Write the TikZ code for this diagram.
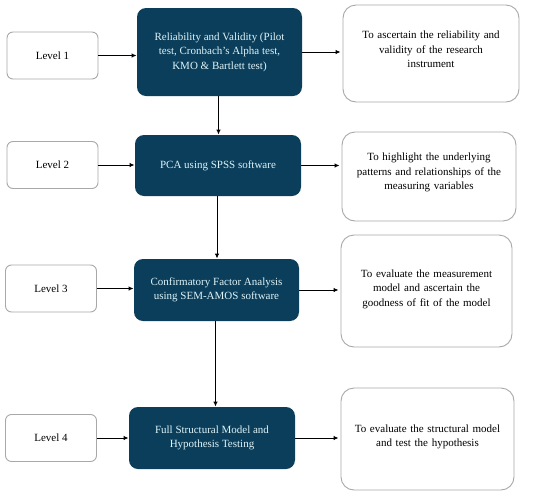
\documentclass[tikz,border=0pt]{standalone}
\usepackage{fontspec}
\setmainfont{Liberation Serif}
\usepackage{xcolor}
\usepackage{tikz}
\usetikzlibrary{positioning,arrows.meta}
\definecolor{stagefill}{RGB}{11,62,91}
\definecolor{stagetext}{RGB}{222,243,247}
\definecolor{boxline}{RGB}{168,168,168}

\begin{document}
\begin{tikzpicture}[
  x=1pt, y=-1pt,
  font=\fontsize{11}{14.5}\selectfont,
  box/.style={draw=boxline, line width=0.9pt, align=center, inner sep=2pt},
  lvl/.style={box, rounded corners=6pt, minimum width=91pt, minimum height=47pt},
  stage/.style={box, draw=none, fill=stagefill, text=stagetext, rounded corners=9pt, minimum width=165pt},
  aim/.style={box, rounded corners=13pt, text width=164pt, minimum width=174pt},
  arr/.style={-{Latex[length=5pt,width=4.5pt]}, line width=0.9pt, black},
]
\useasboundingbox (0,0) rectangle (550,496);
\node[lvl] (l1) at (52.5,55.5) {Level 1};
\node[lvl] (l2) at (52.5,165) {Level 2};
\node[lvl] (l3) at (51,288.5) {Level 3};
\node[lvl] (l4) at (51,438) {Level 4};
\node[stage, minimum height=88pt] (m1) at (219.5,52) {Reliability and Validity (Pilot\\test, Cronbach's Alpha test,\\KMO \& Bartlett test)};
\node[stage, minimum height=61pt, minimum width=166pt] (m2) at (218,165.5) {PCA using SPSS software};
\node[stage, minimum height=62pt] (m3) at (216.5,290) {Confirmatory Factor Analysis\\using SEM-AMOS software};
\node[stage, minimum height=62pt, minimum width=166pt] (m4) at (212,438) {Full Structural Model and\\Hypothesis Testing};
\node[aim, minimum width=176pt, minimum height=97pt] (r1) at (431,53.5) {To ascertain the reliability and\\validity of the research\\instrument\vspace{8pt}};
\node[aim, minimum height=89pt] (r2) at (429,176.5) {To highlight the underlying\\patterns and relationships of the\\measuring variables\vspace{8pt}};
\node[aim, minimum width=171pt, minimum height=112pt] (r3) at (426.5,291) {To evaluate the measurement\\model and ascertain the\\goodness of fit of the model\vspace{4pt}};
\node[aim, minimum width=173pt, minimum height=102pt] (r4) at (427.5,439) {To evaluate the structural model\\and test the hypothesis\vspace{4pt}};
\draw[arr] (l1.east) -- (l1.east -| m1.west);
\draw[arr] (l2.east) -- (l2.east -| m2.west);
\draw[arr] (l3.east) -- (l3.east -| m3.west);
\draw[arr] (l4.east) -- (l4.east -| m4.west);
\draw[arr] (m1.east) -- ([xshift=-2pt]m1.east -| r1.west);
\draw[arr] (m2.east) -- ([xshift=-2pt]m2.east -| r2.west);
\draw[arr] (m3.east) -- ([xshift=-2pt]m3.east -| r3.west);
\draw[arr] (m4.east) -- ([xshift=-2pt]m4.east -| r4.west);
\draw[arr] ([xshift=-1pt]m1.south) -- ([xshift=-1pt]m1.south |- m2.north);
\draw[arr] ([xshift=-1pt]m2.south) -- ([xshift=-1pt]m2.south |- m3.north);
\draw[arr] ([xshift=-1pt]m3.south) -- ([xshift=-1pt]m3.south |- m4.north);
\end{tikzpicture}
\end{document}
